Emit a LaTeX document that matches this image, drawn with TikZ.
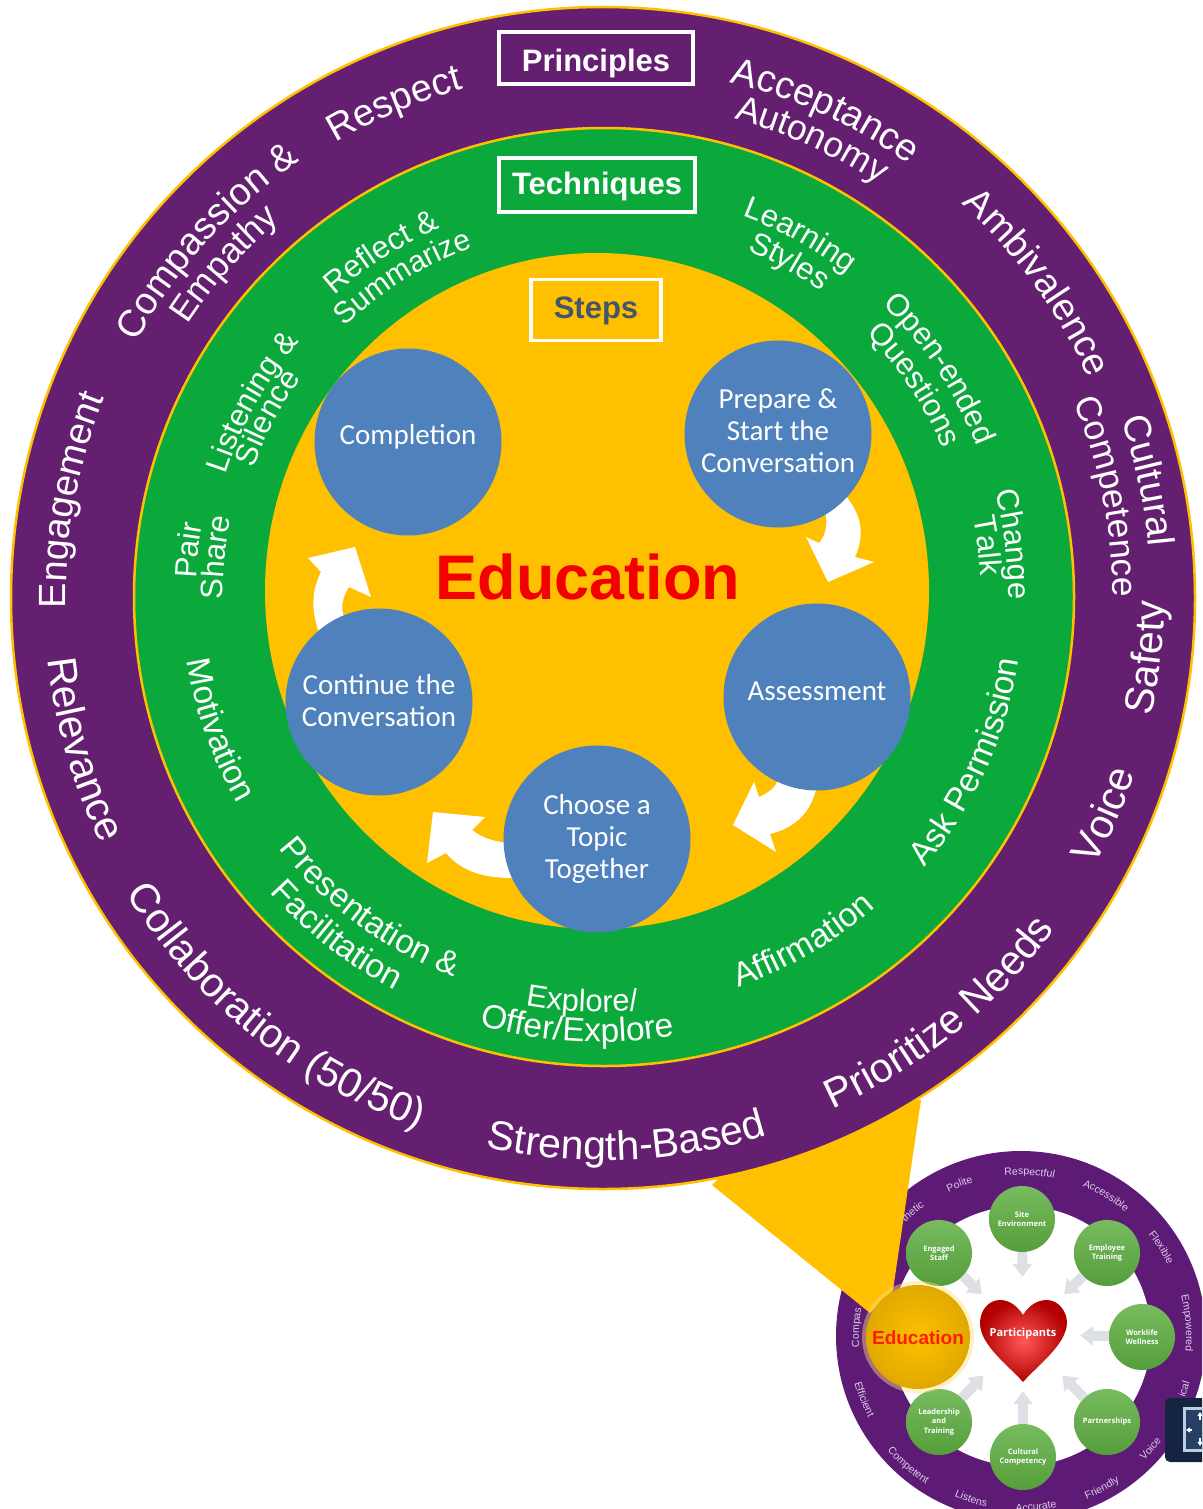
\documentclass[tikz,border=0pt]{standalone}
\usepackage{xcolor}
\usepackage{fontspec}
\setmainfont{Liberation Sans}
\newfontfamily\stepfont{Carlito}
\newfontfamily\miniboldfont{Open Sans}
\usepackage{tikz}
\usetikzlibrary{arrows.meta,decorations.text}
\definecolor{Plum}{HTML}{651F71}
\definecolor{Leaf}{HTML}{0BA83C}
\definecolor{Gold}{HTML}{FFC000}
\definecolor{StepBlue}{HTML}{4F81BD}
\definecolor{Slate}{HTML}{44546A}
\definecolor{MiniPlum}{HTML}{5E1B76}
\definecolor{MiniText}{HTML}{DCCDE6}
\definecolor{MiniGreen}{HTML}{5FAF42}
\definecolor{ArrowGrey}{HTML}{DDE0E4}
\definecolor{Navy}{HTML}{14233F}
\newcommand{\purplefont}{\fontsize{38}{40}\selectfont\color{white}}
\newcommand{\purplesmall}{\fontsize{35.5}{38}\selectfont\color{white}}
\newcommand{\purplewide}{\fontsize{41}{43}\selectfont\color{white}}
\newcommand{\greenfont}{\fontsize{31}{33}\selectfont\color{white}}
\newcommand{\greenwide}{\fontsize{33.5}{35}\selectfont\color{white}}
\newcommand{\minifont}{\fontsize{10.5}{12}\selectfont\color{MiniText}}
\newcommand{\toplabel}[5]{\path[shift={(#1)},decorate,decoration={text along path,text align=center,text={|#4|#5}}] ({#2+70}:#3) arc[start angle={#2+70},end angle={#2-70},radius=#3];}
\newcommand{\botlabel}[5]{\path[shift={(#1)},decorate,decoration={text along path,text align=center,text={|#4|#5}}] ({#2-70}:#3) arc[start angle={#2-70},end angle={#2+70},radius=#3];}
\tikzset{
  ringedge/.style={draw=Gold,line width=2.5pt},
  headbox/.style={draw=white,line width=3.5pt,font=\fontsize{31}{33}\selectfont\bfseries,text=white,inner sep=0pt,text depth=0pt},
  stepnode/.style={circle,draw=none,fill=StepBlue,minimum size=187pt,inner sep=0pt,align=center,text=white,font=\stepfont\fontsize{29}{32}\selectfont},
  blockarrow/.style={fill=white},
  mininode/.style={circle,minimum size=66pt,inner sep=0pt,top color=MiniGreen!85!white,bottom color=MiniGreen!90!black,align=center,text=white,font=\miniboldfont\bfseries\fontsize{7.5}{9.5}\selectfont},
  miniarrow/.style={draw=ArrowGrey,line width=10pt,-{Triangle[width=19pt,length=13pt]}},
}
\begin{document}
\begin{tikzpicture}[x=1pt,y=1pt]%
\useasboundingbox (0,0) rectangle (1202,-1509);%
\clip (0,0) rectangle (1202,-1509);%
\coordinate (purplec) at (603,-598);%
\coordinate (greenc) at (600,-595);%
\coordinate (minic) at (1021,-1336);%
\fill[MiniPlum] (minic) circle[radius=185];%
\fill[white] (minic) circle[radius=130];%
\toplabel{minic}{177}{162}{\minifont}{Compas}%
\toplabel{minic}{131}{162}{\minifont}{thetic}%
\toplabel{minic}{112}{161}{\minifont}{Polite}%
\toplabel{minic}{87}{161}{\minifont}{Respectful}%
\toplabel{minic}{58.8}{162}{\minifont}{Accessible}%
\toplabel{minic}{32.3}{163}{\minifont}{Flexible}%
\toplabel{minic}{4.4}{165}{\minifont}{Empowered}%
\botlabel{minic}{-18}{175}{\minifont}{ical}%
\botlabel{minic}{-41}{175}{\minifont}{Voice}%
\botlabel{minic}{-62}{176}{\minifont}{Friendly}%
\botlabel{minic}{-85}{175}{\minifont}{Accurate}%
\botlabel{minic}{-107}{174}{\minifont}{Listens}%
\botlabel{minic}{-131}{176}{\minifont}{Competent}%
\botlabel{minic}{-158}{173}{\minifont}{Efficient}%
\node[mininode] (site) at (1022,-1219) {Site\\Environment};%
\node[mininode] (employee) at (1107,-1253) {Employee\\Training};%
\node[mininode] (worklife) at (1142,-1337) {Worklife\\Wellness};%
\node[mininode] (partners) at (1107,-1422) {Partnerships};%
\node[mininode] (cultural) at (1023,-1457) {Cultural\\Competency};%
\node[mininode] (leadership) at (939,-1422) {Leadership\\and\\Training};%
\node[mininode] (engaged) at (939,-1253) {Engaged\\Staff};%
\shade[inner color=red!65!white,outer color=red!70!black] (1023,-1315) .. controls (1015,-1302) and (1005,-1300) .. (1000,-1300) .. controls (988,-1300) and (980,-1311) .. (980,-1323) .. controls (980,-1345) and (1008,-1365) .. (1023,-1382) .. controls (1038,-1365) and (1066,-1345) .. (1067,-1323) .. controls (1067,-1311) and (1058,-1300) .. (1047,-1300) .. controls (1041,-1300) and (1031,-1302) .. (1023,-1315) -- cycle;%
\node[circle,minimum size=114pt,inner sep=0pt,text=white,font=\miniboldfont\bfseries\fontsize{11}{13}\selectfont] (participants) at (1023,-1334) {Participants};%
\draw[miniarrow] (site) -- (participants);%
\draw[miniarrow] (employee) -- (participants);%
\draw[miniarrow] (worklife) -- (participants);%
\draw[miniarrow] (partners) -- (participants);%
\draw[miniarrow] (cultural) -- (participants);%
\draw[miniarrow] (leadership) -- (participants);%
\draw[miniarrow] (engaged) -- (participants);%
\fill[Gold] (712,-1185) -- (870,-1313) -- (893,-1290) -- (921,-1100) -- (800,-1100) -- cycle;%
\fill[Gold!50!white,opacity=.45] (918,-1337) circle[radius=56];%
\shade[inner color=Gold,middle color=Gold,outer color=Gold!88!black] (918,-1337) circle[radius=52];%
\node[font=\fontsize{19}{21}\selectfont\bfseries,text=red!85!Gold] (minieducation) at (918,-1338) {Education};%
\fill[Navy,rounded corners=5pt] (1165,-1398) rectangle (1225,-1462);%
\fill[Navy!70!StepBlue,draw=StepBlue!40!white,line width=3pt] (1184,-1408) rectangle (1215,-1450);%
\draw[white,line width=1.5pt,-{Triangle[width=5pt,length=4pt]}] (1192,-1430) -- (1186,-1430);%
\draw[white,line width=1.5pt,-{Triangle[width=5pt,length=4pt]}] (1200,-1420) -- (1200,-1412);%
\draw[white,line width=1.5pt,-{Triangle[width=5pt,length=4pt]}] (1200,-1438) -- (1200,-1446);%
\draw[ringedge,fill=Plum] (purplec) ellipse[x radius=592,y radius=591];%
\draw[ringedge,fill=Leaf] (604,-597) ellipse[x radius=470,y radius=469];%
\fill[Gold] (597,-591) ellipse[x radius=332,y radius=338];%
\node[headbox,fill=Plum,text height=28pt,minimum width=194pt,minimum height=52pt] (principles) at (596,-58) {Principles};%
\node[headbox,fill=Leaf,text height=18pt,minimum width=196pt,minimum height=54pt] (techniques) at (597,-185) {Techniques};%
\node[headbox,fill=Gold,text=Slate,text height=16pt,minimum width=130pt,minimum height=61pt] (steps) at (596,-310) {Steps};%
\toplabel{purplec}{169.6}{537}{\purplefont}{Engagement}%
\toplabel{purplec}{138}{532}{\purplefont}{Compassion {\&}}%
\toplabel{purplec}{138.6}{497}{\purplesmall}{Empathy}%
\toplabel{purplec}{112.9}{528}{\purplefont}{Respect}%
\toplabel{purplec}{65.5}{531}{\purplefont}{Acceptance}%
\toplabel{purplec}{65.5}{497}{\purplesmall}{Autonomy}%
\toplabel{purplec}{36}{533}{\purplefont}{Ambivalence}%
\toplabel{purplec}{12.2}{548}{\purplefont}{Cultural}%
\toplabel{purplec}{11.4}{510}{\purplesmall}{Competence}%
\botlabel{purplec}{-6.2}{561}{\purplewide}{Safety}%
\botlabel{purplec}{-23.4}{560}{\purplewide}{Voice}%
\botlabel{purplec}{-51}{560}{\purplewide}{Prioritize Needs}%
\botlabel{purplec}{-87.5}{562}{\purplewide}{Strength-Based}%
\botlabel{purplec}{-128.7}{561}{\purplewide}{Collaboration (50/50)}%
\botlabel{purplec}{-163.8}{559}{\purplewide}{Relevance}%
\toplabel{greenc}{173.8}{404}{\greenfont}{Pair}%
\toplabel{greenc}{174.4}{377}{\greenfont}{Share}%
\toplabel{greenc}{151}{393}{\greenfont}{Listening {\&}}%
\toplabel{greenc}{152}{369}{\greenfont}{Silence}%
\toplabel{greenc}{122.5}{400}{\greenfont}{Reflect {\&}}%
\toplabel{greenc}{121.8}{370}{\fontsize{30}{32}\selectfont\color{white}}{Summarize}%
\toplabel{greenc}{60.9}{405}{\greenfont}{Learning}%
\toplabel{greenc}{60.4}{375}{\greenfont}{Styles}%
\toplabel{greenc}{33.7}{405}{\greenfont}{Open-ended}%
\toplabel{greenc}{33.8}{373}{\greenfont}{Questions}%
\toplabel{greenc}{7}{408}{\greenfont}{Change}%
\toplabel{greenc}{7.3}{381}{\greenfont}{Talk}%
\botlabel{greenc}{-24.4}{424}{\greenwide}{Ask Permission}%
\botlabel{greenc}{-59.6}{416}{\greenwide}{Affirmation}%
\botlabel{greenc}{-92.5}{417}{\greenfont}{Explore/}%
\botlabel{greenc}{-93}{447}{\greenwide}{Offer/Explore}%
\botlabel{greenc}{-126.3}{409}{\greenwide}{Presentation {\&}}%
\botlabel{greenc}{-127.7}{445}{\greenwide}{Facilitation}%
\botlabel{greenc}{-160.5}{418}{\greenwide}{Motivation}%
\fill[blockarrow] (822,-505) .. controls (830,-520) and (826,-535) .. (819,-543) -- (806,-537) -- (828,-582) -- (874,-562) -- (855,-557) .. controls (865,-535) and (862,-515) .. (845,-495) -- cycle;%
\fill[blockarrow] (778,-780) .. controls (775,-788) and (768,-793) .. (759,-797) -- (754,-782) -- (733,-825) -- (776,-852) -- (770,-834) .. controls (795,-828) and (812,-812) .. (817,-785) -- cycle;%
\fill[blockarrow] (510,-843) .. controls (495,-842) and (482,-838) .. (472,-830) -- (485,-817) -- (433,-812) -- (427,-863) -- (446,-853) .. controls (462,-872) and (485,-878) .. (512,-878) -- cycle;%
\fill[blockarrow] (320,-635) .. controls (310,-610) and (312,-590) .. (321,-572) -- (308,-558) -- (355,-547) -- (371,-597) -- (349,-587) .. controls (342,-598) and (340,-608) .. (345,-620) -- cycle;%
\node[stepnode,text depth=14.5pt] (completion) at (408,-442) {Completion};%
\node[stepnode,text depth=6pt] (prepare) at (778,-434) {Prepare \&\\Start the\\Conversation};%
\node[stepnode,text depth=12pt] (assessment) at (817,-697) {Assessment};%
\node[stepnode] (choose) at (597,-839) {Choose a\\Topic\\Together};%
\node[stepnode,text depth=4pt] (continue) at (379,-702) {Continue the\\Conversation};%
\node[font=\fontsize{63}{65}\selectfont\bfseries,text=red!95!black] (education) at (588,-577) {Education};%
\end{tikzpicture}%
\end{document}
